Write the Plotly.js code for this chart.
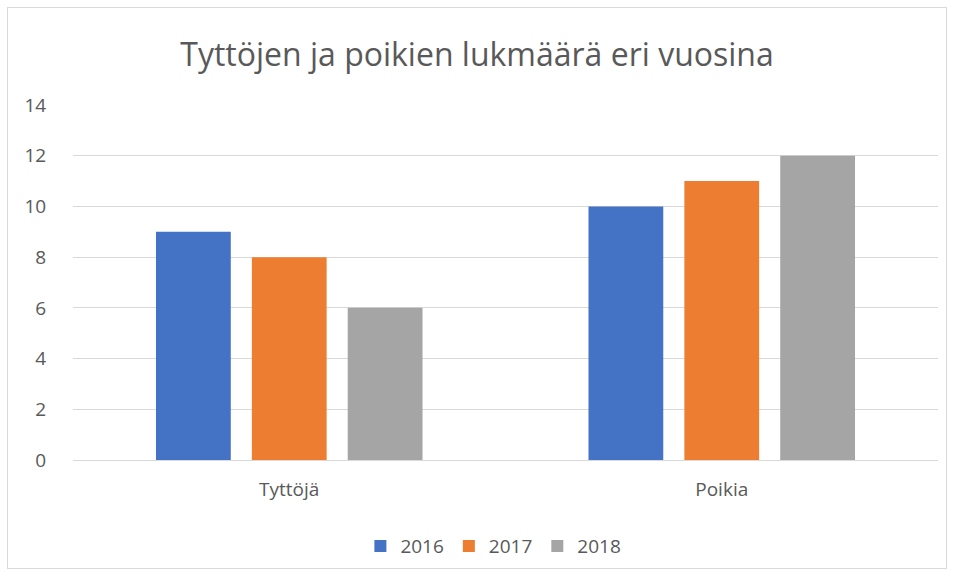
<!DOCTYPE html>
<html>
<head>
<meta charset="utf-8">
<script src="https://cdn.plot.ly/plotly-3.0.1.min.js"></script>
<style>
body{margin:0;padding:0;background:#fff;}
#wrap{position:relative;width:954px;height:576px;}
#chart{width:954px;height:576px;}
#frame{position:absolute;left:7px;top:7px;width:938px;height:560px;border:1px solid #d9d9d9;pointer-events:none;}
</style>
</head>
<body>
<div id="wrap"><div id="chart"></div><div id="frame"></div></div>
<script>
const categories = ["Tyttöjä", "Poikia"];
const seriesNames = ["2016", "2017", "2018"];
const values2016 = [9, 10];
const values2017 = [8, 11];
const values2018 = [6, 12];
const colors = ["#4472c4", "#ed7d31", "#a5a5a5"];
const yTicks = [0, 2, 4, 6, 8, 10, 12, 14];

const seriesValues = [values2016, values2017, values2018];
const traces = seriesNames.map((n, i) => ({
  type: 'bar', name: n, x: categories, y: seriesValues[i],
  marker: {color: colors[i]}, hoverinfo: 'none'
}));

const font = "'Open Sans', sans-serif";
const layout = {
  width: 954, height: 576,
  margin: {l: 73, r: 16, t: 105, b: 115},
  paper_bgcolor: '#fff', plot_bgcolor: '#fff',
  title: {text: "Tyttöjen ja poikien lukmäärä eri vuosina", x: 0.5, xanchor: 'center', y: 0.905, yanchor: 'middle',
          font: {family: font, size: 32, color: '#595959'}},
  barmode: 'group', bargap: 0.335, bargroupgap: 0.22,
  font: {family: font, size: 20, color: '#595959'},
  xaxis: {type: 'category', showgrid: false, zeroline: false, showline: false,
          ticks: 'outside', ticklen: 12, tickcolor: 'rgba(0,0,0,0)',
          tickfont: {family: font, size: 19, color: '#595959'}},
  yaxis: {range: [0, 14], tickvals: yTicks, showgrid: true, gridcolor: '#d9d9d9', gridwidth: 1,
          zeroline: true, zerolinecolor: '#d9d9d9', zerolinewidth: 1, showline: false,
          ticks: 'outside', ticklen: 22, tickcolor: 'rgba(0,0,0,0)',
          tickfont: {family: font, size: 19, color: '#595959'}},
  showlegend: true,
  legend: {orientation: 'h', x: 0.486, xanchor: 'center', y: -0.239, yanchor: 'middle',
           font: {family: font, size: 19, color: '#595959'}, itemwidth: 30, traceorder: 'normal'}
};
Plotly.newPlot('chart', traces, layout, {staticPlot: true, displayModeBar: false});
</script>
</body>
</html>
